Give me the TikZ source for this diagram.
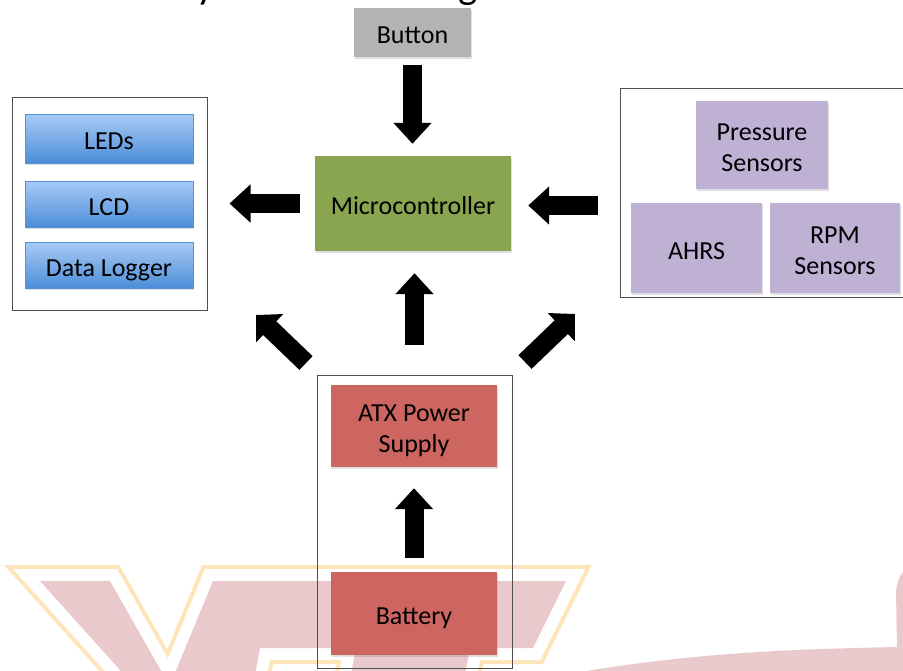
\documentclass[tikz,border=0pt]{standalone}
\usepackage{fontspec}
\setmainfont{Carlito}
\usetikzlibrary{arrows.meta,shadows}
\definecolor{btngray}{HTML}{B3B3B3}
\definecolor{mcugreen}{HTML}{8AA54F}
\definecolor{senspurple}{HTML}{BFB1D4}
\definecolor{pwrred}{HTML}{CD6561}
\definecolor{bluetop}{HTML}{A8CAF6}
\definecolor{bluebot}{HTML}{4C8ED8}
\definecolor{blueedge}{HTML}{5A90D0}
\definecolor{wmpink}{HTML}{E9C9CC}
\definecolor{wmorange}{HTML}{FDE4B9}
\definecolor{framegray}{HTML}{505050}
\newcommand{\mytopstrut}{\rule{0pt}{28pt}}
\newcommand{\mybotstrut}{\rule[-6pt]{0pt}{6pt}}
\begin{document}
\begin{tikzpicture}[x=1pt,y=-1pt,
  lbl/.style={font=\fontsize{26}{31}\selectfont, align=center, text=black},
  blk/.style={lbl, inner sep=0pt, draw=none,
    drop shadow={shadow xshift=1pt, shadow yshift=-1.5pt, opacity=0.25}},
  graybox/.style={blk, fill=btngray},
  bluebox/.style={blk, top color=bluetop, bottom color=bluebot, draw=blueedge, line width=0.5pt},
  greenbox/.style={blk, fill=mcugreen},
  purplebox/.style={blk, fill=senspurple},
  redbox/.style={blk, fill=pwrred},
  frame/.style={draw=framegray, line width=1pt, inner sep=0pt},
  barrow/.style={line width=19pt, -{Triangle[width=37pt,length=21pt]}},
  darrow/.style={line width=19pt, -{Triangle[width=38pt,length=19pt]}},
  wmout/.style={draw=wmorange, line width=32pt, line join=miter},
  wmgap/.style={draw=white, line width=24pt, line join=miter},
]
\useasboundingbox (0,0) rectangle (903,670);
\begin{scope}
\clip (0,0) rectangle (903,670);
% watermark
\draw[wmout] (40,581) -- (110,581) -- (172,690) -- (138,690) -- cycle;
\draw[wmout] (213,581) -- (566,581) -- (533,648) -- (470,648) -- (462,690) -- (348,690) -- (356,648) -- (260,648) -- (252,690) -- (168,690) -- cycle;
\draw[wmgap] (40,581) -- (110,581) -- (172,690) -- (138,690) -- cycle;
\draw[wmgap] (213,581) -- (566,581) -- (533,648) -- (470,648) -- (462,690) -- (348,690) -- (356,648) -- (260,648) -- (252,690) -- (168,690) -- cycle;
\fill[wmpink] (40,581) -- (110,581) -- (172,690) -- (138,690) -- cycle;
\fill[wmpink] (213,581) -- (566,581) -- (533,648) -- (470,648) -- (462,690) -- (348,690) -- (356,648) -- (260,648) -- (252,690) -- (168,690) -- cycle;
\fill[wmpink] (580,672) .. controls (700,652) and (800,649) .. (897,647) -- (896,592) .. controls (897,582) and (900,575) .. (903,572) -- (903,672) -- cycle;

% title (cut off at top)
\node[anchor=base west, font=\fontsize{41}{41}\selectfont, inner sep=0pt] (title) at (178,-2) {System Block Diagram};

% frames
\node[frame, minimum width=195pt, minimum height=213pt] (leftbox) at (109.5,203.5) {};
\node[frame, minimum width=300pt, minimum height=209pt] (rightbox) at (770,192.5) {};
\node[frame, minimum width=195pt, minimum height=293pt] (psbox) at (414.5,521.5) {};

% blocks
\node[graybox, minimum width=117pt, minimum height=49pt] (button) at (412.5,32.5) {\mytopstrut Button\mybotstrut};
\node[bluebox, minimum width=168pt, minimum height=49pt] (leds) at (109,138.5) {\mytopstrut LEDs\mybotstrut};
\node[bluebox, minimum width=168pt, minimum height=46pt] (lcd) at (109,204) {\mytopstrut LCD\mybotstrut};
\node[bluebox, minimum width=168pt, minimum height=46pt] (logger) at (109,265) {\mytopstrut Data Logger\mybotstrut};
\node[greenbox, minimum width=196pt, minimum height=95pt] (mcu) at (413,203.5) {\mytopstrut Microcontroller\mybotstrut};
\node[purplebox, minimum width=132pt, minimum height=88pt] (pressure) at (762,145) {\mytopstrut Pressure\\Sensors\mybotstrut};
\node[purplebox, minimum width=131pt, minimum height=90pt] (ahrs) at (696.5,248) {\mytopstrut AHRS\mybotstrut};
\node[purplebox, minimum width=130pt, minimum height=90pt] (rpm) at (835,248) {\mytopstrut RPM\\Sensors\mybotstrut};
\node[redbox, minimum width=166pt, minimum height=82pt] (atx) at (414,426) {\mytopstrut ATX Power\\Supply\mybotstrut};
\node[redbox, minimum width=166pt, minimum height=83pt] (battery) at (414,613.5) {\mytopstrut Battery\mybotstrut};

% connectors
\draw[barrow, shorten <=8pt, shorten >=12pt] (button.south) -- (button.south |- mcu.north);
\draw[barrow, shorten <=15pt, shorten >=22pt] (mcu.west) -- (leftbox.east |- mcu.west);
\draw[barrow, shorten <=22pt, shorten >=17pt] ([yshift=-2pt]rightbox.west |- mcu.east) -- ([yshift=-2pt]mcu.east);
\draw[barrow, shorten <=30pt, shorten >=22pt] (psbox.north) -- (psbox.north |- mcu.south);
\draw[barrow, shorten <=14pt, shorten >=21pt] (battery.north) -- (atx.south);
\coordinate (ulA) at (306,363);
\coordinate (ulB) at (256,315);
\coordinate (urA) at (525,362);
\coordinate (urB) at (575,314);
\draw[darrow] (ulA) -- (ulB);
\draw[darrow] (urA) -- (urB);
\end{scope}
\end{tikzpicture}
\end{document}
